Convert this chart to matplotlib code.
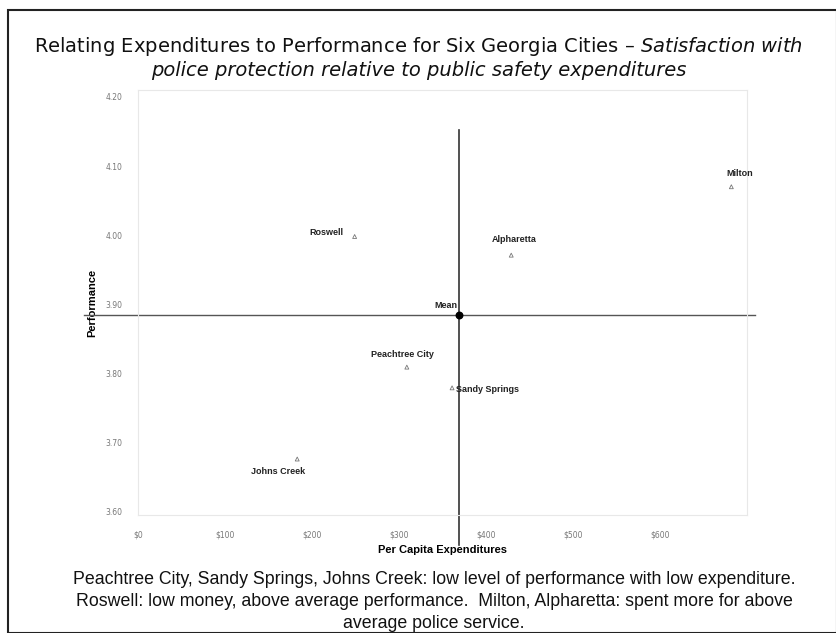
import matplotlib
matplotlib.use("Agg")
import matplotlib.pyplot as plt
import matplotlib.transforms as mtransforms
from matplotlib.patches import Rectangle
import numpy as np

cities = ["Milton", "Alpharetta", "Roswell", "Peachtree City", "Sandy Springs", "Johns Creek"]
expend = [682, 429, 249, 309, 361, 183]
perf = [4.070, 3.971, 3.998, 3.809, 3.779, 3.676]
xticks = [0, 100, 200, 300, 400, 500, 600]
xtick_labels = ["$0", "$100", "$200", "$300", "$400", "$500", "$600"]
yticks = [3.60, 3.70, 3.80, 3.90, 4.00, 4.10, 4.20]
ytick_labels = ["3.60", "3.70", "3.80", "3.90", "4.00", "4.10", "4.20"]

# label placement: (dx points, dy points, ha, va)
label_pos = {
    "Milton": (6, 6, "center", "bottom"),
    "Alpharetta": (2, 8, "center", "bottom"),
    "Roswell": (-8, 0, "right", "bottom"),
    "Peachtree City": (-3, 6, "center", "bottom"),
    "Sandy Springs": (3, -1, "left", "center"),
    "Johns Creek": (-14, -6, "center", "top"),
}

fig = plt.figure(figsize=(8.37, 6.33), dpi=100)
fig.patches.append(Rectangle((8/837, 0), 829/837, 1 - 10/633, transform=fig.transFigure,
                             fill=False, edgecolor="#222222", linewidth=1.5))

ax = fig.add_axes([138/837, (633-515)/633, 609/837, 425/633])
ax.set_xlim(0, 700)
ax.set_ylim(3.595, 4.21)

ax.scatter(expend, perf, marker="^", s=8, facecolor="none", edgecolor="#777777", linewidth=0.6, zorder=3)
for c, x, y in zip(cities, expend, perf):
    dx, dy, ha, va = label_pos[c]
    ax.annotate(c, (x, y), xytext=(dx, dy), textcoords="offset points", ha=ha, va=va,
                fontsize=6.5, fontweight="bold", family="Liberation Sans", color="#222222")

mx, my = np.mean(expend), np.mean(perf)
trans_h = mtransforms.blended_transform_factory(ax.transAxes, ax.transData)
trans_v = mtransforms.blended_transform_factory(ax.transData, ax.transAxes)
ax.plot([-0.088, 1.013], [my, my], transform=trans_h, color="#555555", lw=1.0, clip_on=False, zorder=2)
ax.plot([mx, mx], [-0.07, 0.906], transform=trans_v, color="#333333", lw=1.2, clip_on=False, zorder=2)
ax.scatter([mx], [my], s=22, color="black", zorder=4)
ax.annotate("Mean", (mx, my), xytext=(-1, 4), textcoords="offset points", ha="right", va="bottom",
            fontsize=6.5, fontweight="bold", family="Liberation Sans", color="#222222")

ax.set_xticks(xticks)
ax.set_xticklabels(xtick_labels, fontsize=5.5, color="#777777")
ax.set_yticks(yticks)
ax.set_yticklabels(ytick_labels, fontsize=5.5, color="#777777")
ax.tick_params(length=0, pad=11)
for s in ax.spines.values():
    s.set_color("#e8e8e8")
    s.set_linewidth(0.8)

ax.set_xlabel("Per Capita Expenditures", fontsize=8, fontweight="bold", family="Liberation Sans", labelpad=4)
ax.set_ylabel("Performance", fontsize=8, fontweight="bold", family="Liberation Sans", labelpad=6)

fig.text(0.5, 1 - 47/633, "Relating Expenditures to Performance for Six Georgia Cities – $\\it{Satisfaction\\ with}$",
         ha="center", va="center", fontsize=14, family="DejaVu Sans", color="#111111")
fig.text(0.5, 1 - 70/633, "police protection relative to public safety expenditures",
         ha="center", va="center", fontsize=14, style="italic", family="DejaVu Sans", color="#111111")

cap = ["Peachtree City, Sandy Springs, Johns Creek: low level of performance with low expenditure.",
       "Roswell: low money, above average performance.  Milton, Alpharetta: spent more for above",
       "average police service."]
for i, line in enumerate(cap):
    fig.text(434/837, 1 - (580 + 22*i)/633, line, ha="center", va="center", fontsize=12.8,
             family="Liberation Sans", color="#111111")

fig.savefig("out.png", dpi=100)
